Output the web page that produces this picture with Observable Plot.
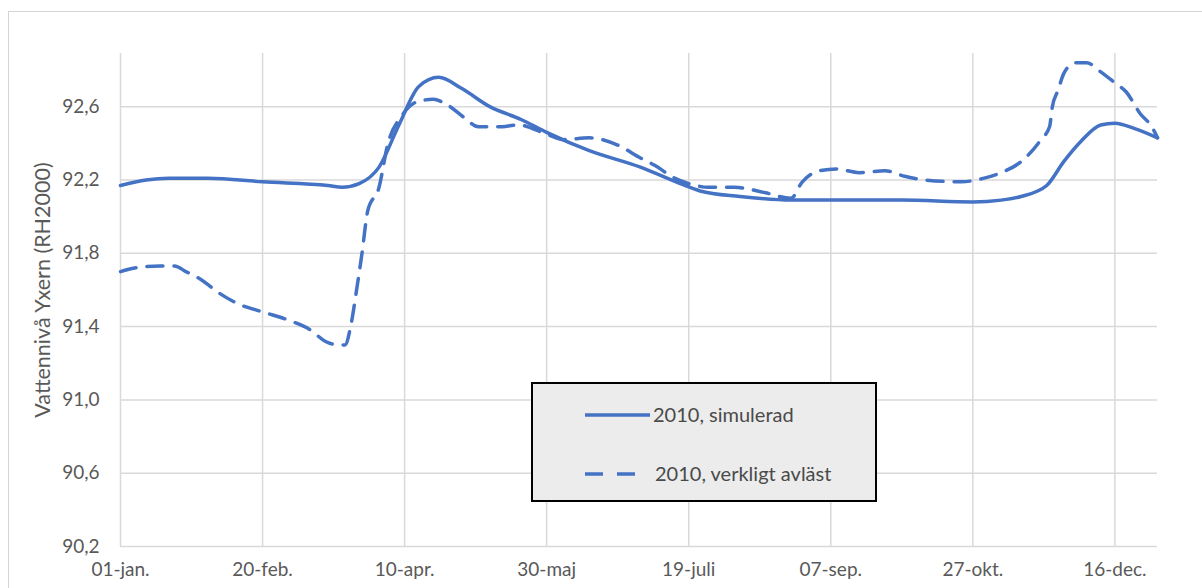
<!DOCTYPE html>
<html><head><meta charset="utf-8">
<script src="https://cdn.jsdelivr.net/npm/d3@7"></script>
<script src="https://cdn.jsdelivr.net/npm/@observablehq/plot@0.6"></script>
<style>
body{margin:0;background:#fff;overflow:hidden;font-family:Lato, sans-serif;}
#wrap{position:relative;width:1202px;height:588px;overflow:hidden;}
#frame{position:absolute;left:8px;top:11px;width:1300px;height:700px;border:1.5px solid #d4d4d4;}
#chart{position:absolute;left:0;top:0;}
#legend{position:absolute;left:531px;top:382px;width:342px;height:116px;background:#ececec;border:2px solid #000;}
</style></head><body>
<div id="wrap"><div id="frame"></div><div id="chart"></div><div id="legend"></div></div>
<script>
const seriesNames = ["2010, simulerad", "2010, verkligt avläst"];
const simDates = ["2010-01-01","2010-01-10","2010-01-18","2010-02-01","2010-02-20","2010-03-15","2010-03-20","2010-03-26","2010-04-02","2010-04-09","2010-04-16","2010-04-23","2010-05-01","2010-05-11","2010-05-22","2010-05-31","2010-06-15","2010-07-03","2010-07-17","2010-07-24","2010-08-07","2010-08-25","2010-09-08","2010-10-03","2010-10-28","2010-11-07","2010-11-14","2010-11-23","2010-11-29","2010-12-05","2010-12-12","2010-12-17","2010-12-24","2011-01-01"];
const simValues = [92.17,92.20,92.21,92.21,92.19,92.17,92.16,92.18,92.27,92.50,92.71,92.76,92.70,92.60,92.53,92.46,92.36,92.27,92.18,92.14,92.11,92.09,92.09,92.09,92.08,92.09,92.11,92.17,92.30,92.41,92.50,92.51,92.48,92.43];
const obsDates = ["2010-01-01","2010-01-06","2010-01-15","2010-01-20","2010-01-24","2010-01-29","2010-02-05","2010-02-12","2010-02-20","2010-03-02","2010-03-09","2010-03-14","2010-03-19","2010-03-21","2010-03-23","2010-03-25","2010-03-27","2010-03-29","2010-04-02","2010-04-05","2010-04-10","2010-04-16","2010-04-21","2010-04-26","2010-05-02","2010-05-07","2010-05-14","2010-05-21","2010-05-31","2010-06-06","2010-06-15","2010-06-25","2010-07-03","2010-07-08","2010-07-15","2010-07-20","2010-07-27","2010-08-05","2010-08-16","2010-08-25","2010-08-29","2010-09-04","2010-09-10","2010-09-18","2010-09-27","2010-10-04","2010-10-11","2010-10-24","2010-11-01","2010-11-07","2010-11-14","2010-11-21","2010-11-24","2010-11-25","2010-11-27","2010-11-29","2010-12-03","2010-12-07","2010-12-12","2010-12-17","2010-12-21","2010-12-26","2010-12-30","2011-01-01"];
const obsValues = [91.70,91.72,91.73,91.73,91.70,91.66,91.58,91.52,91.48,91.43,91.38,91.32,91.30,91.30,91.40,91.59,91.80,92.03,92.16,92.39,92.55,92.63,92.64,92.61,92.54,92.49,92.49,92.50,92.45,92.42,92.43,92.39,92.32,92.28,92.21,92.18,92.16,92.16,92.13,92.10,92.19,92.25,92.26,92.24,92.25,92.22,92.20,92.19,92.21,92.24,92.30,92.42,92.49,92.60,92.69,92.78,92.84,92.84,92.79,92.73,92.68,92.56,92.49,92.43];
const xTickDays = [0, 50, 100, 150, 200, 250, 300, 350];
const xTickLabels = ["01-jan.", "20-feb.", "10-apr.", "30-maj", "19-juli", "07-sep.", "27-okt.", "16-dec."];
const yTicks = [90.2, 90.6, 91.0, 91.4, 91.8, 92.2, 92.6];
const yLabel = "Vattennivå Yxern (RH2000)";
const color = "#4472C4";

const start = new Date(2010, 0, 1);
const dayOf = s => d3.timeDay.count(start, new Date(s + "T00:00"));
const sim = simDates.map((d, i) => ({day: dayOf(d), value: simValues[i]}));
const obs = obsDates.map((d, i) => ({day: dayOf(d), value: obsValues[i]}));

const chart = Plot.plot({
  width: 1202, height: 588,
  marginLeft: 120, marginRight: 45, marginTop: 53, marginBottom: 42,
  style: {fontFamily: "Lato, sans-serif", fontSize: "19px", color: "#595959", background: "transparent"},
  x: {domain: [0, 365]},
  y: {domain: [90.2, 92.89]},
  marks: [
    Plot.gridX(xTickDays, {stroke: "#d9d9d9", strokeOpacity: 1, strokeWidth: 1.5}),
    Plot.gridY(yTicks, {stroke: "#d9d9d9", strokeOpacity: 1, strokeWidth: 1.5}),
    Plot.axisX(xTickDays, {tickSize: 0, tickPadding: 16, fontSize: 19, tickFormat: d => xTickLabels[xTickDays.indexOf(d)], label: null}),
    Plot.axisY(yTicks, {tickSize: 0, tickPadding: 21, fontSize: 19, tickFormat: d => d.toFixed(1).replace(".", ","), label: null}),
    Plot.text([yLabel], {frameAnchor: "left", textAnchor: "middle", rotate: -90, dx: -77, dy: -10, fontSize: 21.5, fill: "#595959"}),
    Plot.line(sim, {x: "day", y: "value", stroke: color, strokeWidth: 3.5, curve: "monotone-x"}),
    Plot.line(obs, {x: "day", y: "value", stroke: color, strokeWidth: 3.5, strokeDasharray: "16,11", curve: "monotone-x"})
  ]
});
document.getElementById("chart").appendChild(chart);

const legend = d3.select("#legend").append("svg").attr("width", 342).attr("height", 116)
  .style("font-family", "Lato, sans-serif").style("font-size", "20px");
seriesNames.forEach((name, i) => {
  const y = i === 0 ? 31 : 90;
  legend.append("line").attr("x1", 52).attr("x2", i === 0 ? 117 : 106).attr("y1", y).attr("y2", y)
    .attr("stroke", color).attr("stroke-width", 3.5).attr("stroke-dasharray", i === 0 ? null : "18,14");
  legend.append("text").attr("x", i === 0 ? 120 : 122).attr("y", y).attr("dy", "0.35em").attr("fill", "#4a4a4a").text(name);
});
</script>
</body></html>
